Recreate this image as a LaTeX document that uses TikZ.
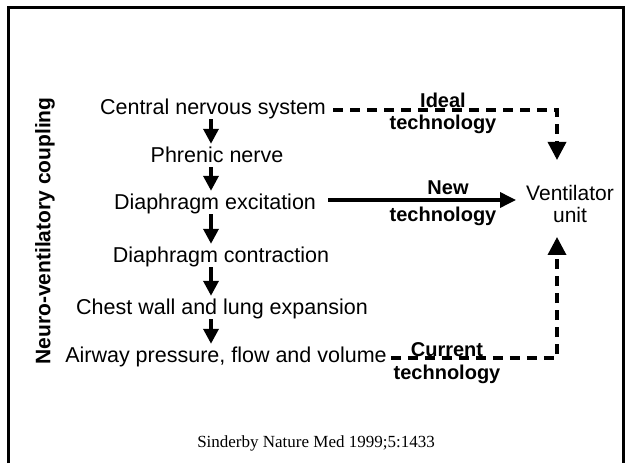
\documentclass[tikz,border=0pt]{standalone}
\usepackage{fontspec}
\setmainfont{Liberation Sans}
\newfontfamily\capfont{Liberation Serif}
\usetikzlibrary{arrows.meta}
\tikzset{
  stage/.style={font=\fontsize{21.5}{24}\selectfont, anchor=base, inner xsep=2pt, inner ysep=0pt, text height=14pt, text depth=4pt},
  techlabel/.style={font=\bfseries\fontsize{20}{22}\selectfont, anchor=base, inner sep=0pt},
  flowarrow/.style={-{Triangle[width=15pt,length=15pt]}, line width=3.5pt, shorten >=5pt},
  bus/.style={-{Triangle[width=15pt,length=16pt]}, line width=3.5pt},
  ctrl/.style={-{Triangle[width=18pt,length=18pt]}, line width=3.5pt, dash pattern=on 10pt off 7pt},
  slideframe/.style={line width=3pt}
}
\begin{document}
\begin{tikzpicture}[x=1pt, y=1pt]
  \useasboundingbox (0,0) rectangle (626,463);
  \draw[slideframe] (8.5,0) -- (8.5,455.5) -- (623.5,455.5) -- (623.5,0);

  \node[stage] (cns) at (213,348) {Central nervous system};
  \node[stage] (phr) at (217,300) {Phrenic nerve};
  \node[stage] (exc) at (215,253) {Diaphragm excitation};
  \node[stage] (con) at (221,200) {Diaphragm contraction};
  \node[stage] (chest) at (222,148) {Chest wall and lung expansion};
  \node[stage] (airway) at (226,100) {Airway pressure, flow and volume};

  \node[font=\fontsize{21}{22}\selectfont, align=center, inner sep=3pt] (vent) at (570,259) {Ventilator\\unit};
  \node[rotate=90, font=\bfseries\fontsize{21}{24}\selectfont] (coupling) at (45,232) {Neuro-ventilatory coupling};

  \node[techlabel] (ideal) at (443,355) {Ideal};
  \node[techlabel] (idealtech) at (443,333) {technology};
  \node[techlabel] (new) at (448,268) {New};
  \node[techlabel] (newtech) at (443,241) {technology};
  \node[techlabel] (current) at (447,106) {Current};
  \node[techlabel] (currenttech) at (447,83) {technology};

  \node[font=\capfont\fontsize{17}{20}\selectfont, anchor=base] (source) at (316,16) {Sinderby Nature Med 1999;5:1433};

  \coordinate (axis) at (211,0);
  \coordinate (vtop) at (557,303);
  \coordinate (vbot) at (557,226);

  \draw[flowarrow] (cns.south -| axis) -- (phr.north -| axis);
  \draw[flowarrow] (phr.south -| axis) -- (exc.north -| axis);
  \draw[flowarrow] (exc.south -| axis) -- (con.north -| axis);
  \draw[flowarrow] (con.south -| axis) -- (chest.north -| axis);
  \draw[flowarrow] (chest.south -| axis) -- (airway.north -| axis);

  \draw[ctrl, shorten <=5pt] (cns.east) -- (cns.east -| vtop) -- (vtop);
  \draw[bus, shorten <=10pt, shorten >=7pt] ([yshift=5pt]exc.east) -- ([yshift=5pt]exc.east -| vent.west);
  \draw[ctrl, shorten <=2pt] (airway.east) -- (airway.east -| vbot) -- (vbot);
\end{tikzpicture}
\end{document}
